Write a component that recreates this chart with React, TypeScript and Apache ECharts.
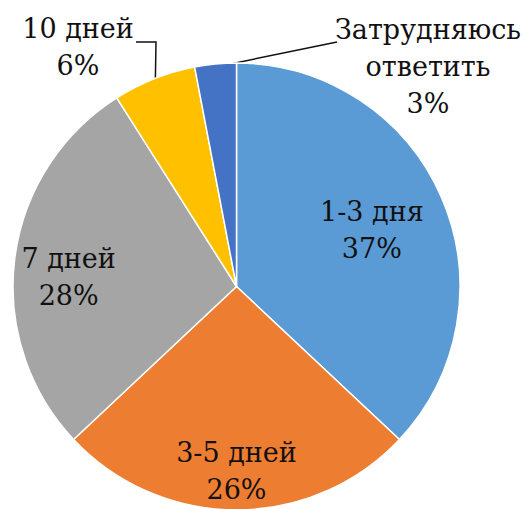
import React, { useEffect, useRef } from "react";
import * as echarts from "echarts";

const categories = ["1-3 дня", "3-5 дней", "7 дней", "10 дней", "Затрудняюсь\nответить"];
const values = [37, 26, 28, 6, 3];
const colors = ["#5B9BD5", "#ED7D31", "#A5A5A5", "#FFC000", "#4472C4"];
const outsideLabel = [false, false, false, true, true];
// label adjustments (layout only)
const labelShift: any[] = [
  { dx: 30, dy: -11 },
  { dx: 0, dy: 70 },
  { dx: -54, dy: 5 },
  { x: 78, y: 47, line: [[156, 42], [136, 42]] },
  { x: 428, y: 66, line: [[337, 42], [337, 42]] },
];

const CX = 236.5;
const CY = 286.5;
const R = 223.5;

export default function App() {
  const ref = useRef<HTMLDivElement>(null);
  useEffect(() => {
    document.body.style.margin = "0";
    const chart = echarts.init(ref.current!, null, { renderer: "svg" });
    const total = values.reduce((a, b) => a + b, 0);
    const midAngles: number[] = [];
    let acc = 0;
    values.forEach((v) => {
      midAngles.push(((acc + v / 2) / total) * 2 * Math.PI);
      acc += v;
    });
    chart.setOption({
      animation: false,
      backgroundColor: "#ffffff",
      textStyle: { fontFamily: "DejaVu Serif" },
      series: [
        {
          type: "pie",
          center: [CX, CY],
          radius: [0, R],
          startAngle: 90,
          clockwise: true,
          percentPrecision: 0,
          avoidLabelOverlap: false,
          itemStyle: { borderColor: "#ffffff", borderWidth: 1.5 },
          label: {
            show: true,
            formatter: "{b}\n{d}%",
            align: "center",
            fontFamily: "DejaVu Serif",
            fontSize: 27,
            lineHeight: 37,
            color: "#111111",
          },
          labelLine: {
            show: true,
            length: 10,
            length2: 10,
            lineStyle: { color: "#111", width: 1.5 },
          },
          labelLayout: (p: any) => {
            const s = labelShift[p.dataIndex];
            if (s.x !== undefined) {
              const a = midAngles[p.dataIndex];
              const start = [CX + (R - 3) * Math.sin(a), CY - (R - 3) * Math.cos(a)];
              return {
                x: s.x,
                y: s.y,
                align: "center",
                verticalAlign: "middle",
                labelLinePoints: [start, s.line[0], s.line[1]],
              };
            }
            return { dx: s.dx, dy: s.dy };
          },
          data: categories.map((c, i) => ({
            name: c,
            value: values[i],
            itemStyle: { color: colors[i] },
            label: { position: outsideLabel[i] ? "outside" : "inside" },
            labelLine: { show: outsideLabel[i] },
          })),
        },
      ],
    });
    return () => chart.dispose();
  }, []);
  return <div ref={ref} style={{ width: 524, height: 509 }} />;
}
